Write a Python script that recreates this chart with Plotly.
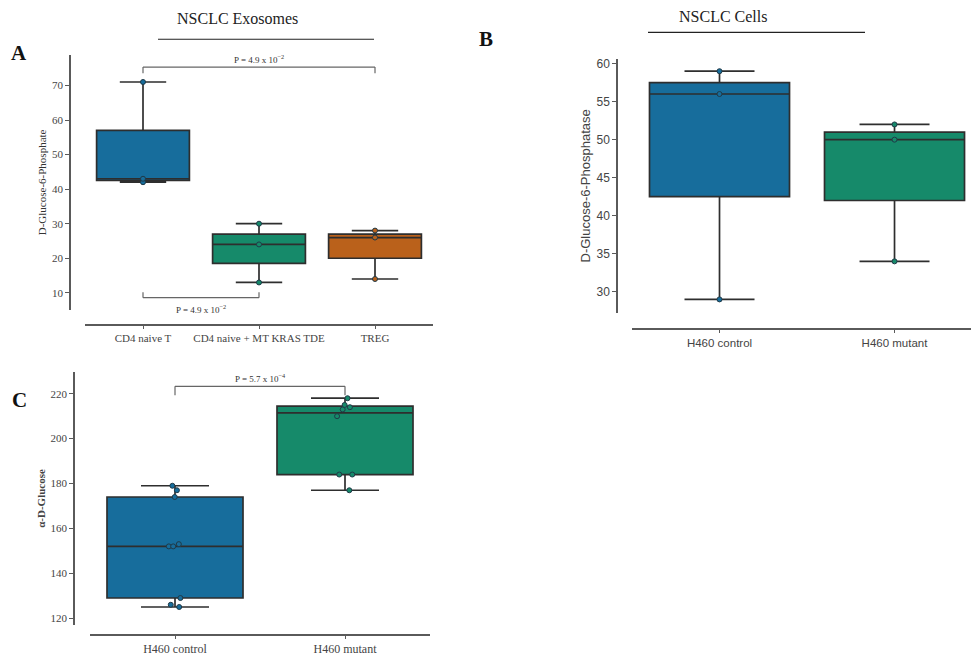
import plotly.graph_objects as go

W, H = 971, 656

# ---------------- data ----------------
a_categories = ["CD4 naive T", "CD4 naive + MT KRAS TDE", "TREG"]
a_cd4_naive = [71, 43, 42]
a_cd4_kras = [30, 24, 13]
a_treg = [28, 26, 14]

b_categories = ["H460 control", "H460 mutant"]
b_control = [59, 56, 29]
b_mutant = [52, 50, 34]

c_categories = ["H460 control", "H460 mutant"]
c_control = [179, 177, 174, 153, 152, 152, 129, 126, 125]
c_mutant = [218, 215, 214, 213, 210, 184, 184, 177]

a_pvalues = ["P = 4.9 x 10<sup>\u22122</sup>", "P = 4.9 x 10<sup>\u22122</sup>"]
c_pvalue = "P = 5.7 x 10<sup>\u22124</sup>"

BLUE, GREEN, ORANGE = "#176d9c", "#168a6a", "#ba611b"
EDGE = "#2e2e2e"
AX = "#5a5a5a"
SERIF = "Liberation Serif"
SANS = "Liberation Sans"


def px_x(p):
    return p / W


def px_y(p):
    return 1 - p / H


fig = go.Figure()


def add_box(xcat, vals, color, xa, ya, jitter=0.0):
    fig.add_trace(go.Box(
        x=[xcat] * len(vals), y=vals, xaxis=xa, yaxis=ya,
        fillcolor=color, line=dict(color=EDGE, width=1.7),
        boxpoints="all", pointpos=0, jitter=jitter,
        marker=dict(color=color, size=5, line=dict(color="#1f3a48", width=1)),
        width=0.8, whiskerwidth=0.5, quartilemethod="inclusive",
        showlegend=False, hoverinfo="y",
    ))


add_box(a_categories[0], a_cd4_naive, BLUE, "x", "y")
add_box(a_categories[1], a_cd4_kras, GREEN, "x", "y")
add_box(a_categories[2], a_treg, ORANGE, "x", "y")
add_box(b_categories[0], b_control, BLUE, "x2", "y2")
add_box(b_categories[1], b_mutant, GREEN, "x2", "y2")
add_box(c_categories[0], c_control, BLUE, "x3", "y3", jitter=0.12)
add_box(c_categories[1], c_mutant, GREEN, "x3", "y3", jitter=0.14)


def xaxis(domain, pos, rng, cats, font):
    return dict(domain=domain, anchor="free", position=pos, range=rng,
                type="category", categoryorder="array", categoryarray=cats,
                showline=True, linecolor=AX, linewidth=1.5, ticks="outside",
                ticklen=3, tickcolor=AX, showgrid=False, zeroline=False,
                tickfont=font, fixedrange=True)


def yaxis(domain, pos, rng, dtick, font, title, tfont, standoff):
    return dict(domain=domain, anchor="free", position=pos, range=rng,
                dtick=dtick, showline=True, linecolor=AX, linewidth=1.5,
                ticks="outside", ticklen=4, tickcolor=AX, showgrid=False,
                zeroline=False, tickfont=font,
                title=dict(text=title, font=tfont, standoff=standoff),
                fixedrange=True)


serif_tick = dict(family=SERIF, size=11, color="#444")
sans_tick = dict(family=SANS, size=12, color="#444")

fig.update_layout(
    width=W, height=H, margin=dict(l=0, r=0, t=0, b=0),
    paper_bgcolor="white", plot_bgcolor="white", boxmode="overlay",
    xaxis=xaxis([px_x(85), px_x(433)], px_y(325), [-0.5, 2.5], a_categories, serif_tick),
    yaxis=yaxis([px_y(310), px_y(53)], px_x(70), [5.0, 78.9], 10, serif_tick,
                "D-Glucose-6-Phosphate", dict(family=SERIF, size=11, color="#333"), 2),
    xaxis2=xaxis([px_x(632), 1.0], px_y(329), [-0.5, 1.437], b_categories,
                 dict(family=SANS, size=11.5, color="#444")),
    yaxis2=yaxis([px_y(313), px_y(57)], px_x(617), [27.2, 60.65], 5, sans_tick,
                 "D-Glucose-6-Phosphatase", dict(family=SANS, size=13, color="#444"), 2),
    xaxis3=xaxis([px_x(90), px_x(430)], px_y(637), [-0.5, 1.5], c_categories,
                 dict(family=SERIF, size=12, color="#444")),
    yaxis3=yaxis([px_y(627), px_y(372)], px_x(74), [116.9, 229.8], 20, serif_tick,
                 "<b>\u03b1-D-Glucose</b>", dict(family=SERIF, size=11, color="#444"), 2),
)

shapes = []
annotations = []

# panel titles with rules
for text, cx, cy, lx0, lx1, ly in [("NSCLC Exosomes", 237, 17, 158, 374, 37.5),
                                   ("NSCLC Cells", 723, 15, 648, 865, 30.5)]:
    annotations.append(dict(text=text, x=px_x(cx), y=px_y(cy), xref="paper", yref="paper",
                            showarrow=False, font=dict(family=SERIF, size=16, color="#222"),
                            xanchor="center", yanchor="middle"))
    shapes.append(dict(type="line", xref="paper", yref="paper", x0=px_x(lx0), x1=px_x(lx1),
                       y0=px_y(ly), y1=px_y(ly), line=dict(color="#222", width=1.2)))

# panel letters
for letter, cx, cy in [("A", 19, 51), ("B", 486, 37), ("C", 19, 400)]:
    annotations.append(dict(text="<b>%s</b>" % letter, x=px_x(cx), y=px_y(cy), xref="paper",
                            yref="paper", showarrow=False,
                            font=dict(family=SERIF, size=21, color="#111"),
                            xanchor="center", yanchor="middle"))


def bracket(xref, yref, c0, c1, ybar, ytip, label, above=True):
    for xa, xb, ya, yb in [(c0, c0, ytip, ybar), (c0, c1, ybar, ybar), (c1, c1, ybar, ytip)]:
        shapes.append(dict(type="line", xref=xref, yref=yref, x0=xa, x1=xb, y0=ya, y1=yb,
                           line=dict(color="#666", width=1.2)))
    annotations.append(dict(text=label, xref=xref, yref=yref,
                            x=(c0 + c1) / 2, y=ybar, showarrow=False,
                            yanchor="bottom" if above else "top",
                            yshift=0 if above else -3,
                            font=dict(family=SERIF, size=9, color="#333")))


# panel A brackets (category index positions)
bracket("x", "y", 0, 2, max(a_cd4_naive) + 4.3, max(a_cd4_naive) + 2.5, a_pvalues[0], True)
bracket("x", "y", 0, 1, min(a_cd4_kras) - 4.4, min(a_cd4_kras) - 2.8, a_pvalues[1], False)
# panel C bracket
bracket("x3", "y3", 0, 1, max(c_mutant) + 5.3, max(c_mutant) + 1.3, c_pvalue, True)

fig.update_layout(shapes=shapes, annotations=annotations)

fig.write_html("out.html", config={"displayModeBar": False},
               post_script="document.body.style.margin='0';document.body.style.overflow='hidden';")
